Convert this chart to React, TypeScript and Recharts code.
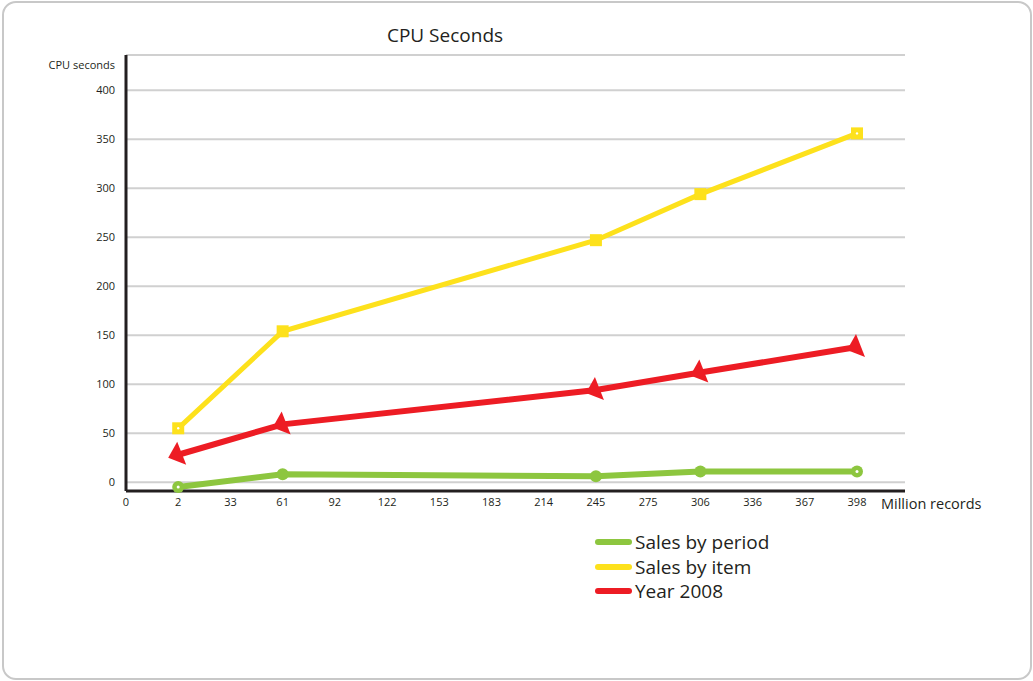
import React from 'react';
import {CartesianGrid, Legend, Line, LineChart, XAxis, YAxis} from 'recharts';

// x positions are evenly spaced labels, not a linear scale
const categories = ['0', '2', '33', '61', '92', '122', '153', '183', '214', '245', '275', '306', '336', '367', '398'];

const salesByPeriod = [null, -5, null, 8, null, null, null, null, null, 6, null, 11, null, null, 11];
const salesByItem = [null, 55, null, 154, null, null, null, null, null, 247, null, 294, null, null, 356];
const year2008 = [null, 28, null, 59, null, null, null, null, null, 94, null, 112, null, null, 138];

const seriesNames = ['Sales by period', 'Sales by item', 'Year 2008'];

const yTicks = [0, 50, 100, 150, 200, 250, 300, 350, 400];

const GREEN = '#8dc63f';
const YELLOW = '#fde11c';
const RED = '#ed1c24';
const TEXT = '#231f20';
const FONT = '"Open Sans", sans-serif';

const data = categories.map((label, i) => ({
    label,
    period: salesByPeriod[i],
    item: salesByItem[i],
    year: year2008[i],
}));

const lastIndex = categories.length - 1;

const CircleDot = (props: any) => {
    const {cx, cy, value, index} = props;
    if (value == null || cy == null) return <g key={`c-${index}`}/>;
    const hollow = index === 1 || index === lastIndex;
    return (
        <g key={`c-${index}`}>
            <circle cx={cx} cy={cy} r={6} fill={GREEN}/>
            {hollow && <circle cx={cx} cy={cy} r={1.5} fill="#fff"/>}
        </g>
    );
};

const SquareDot = (props: any) => {
    const {cx, cy, value, index} = props;
    if (value == null || cy == null) return <g key={`s-${index}`}/>;
    const dotted = index === 1 || index === lastIndex;
    return (
        <g key={`s-${index}`}>
            <rect x={cx - 6} y={cy - 6} width={12} height={12} fill={YELLOW}/>
            {dotted && <circle cx={cx} cy={cy} r={1.2} fill="#fff"/>}
        </g>
    );
};

const TriangleDot = (props: any) => {
    const {cx, cy, value, index} = props;
    if (value == null || cy == null) return <g key={`t-${index}`}/>;
    const pts = `${cx - 1},${cy - 13} ${cx + 8},${cy + 10} ${cx - 10},${cy + 3}`;
    return <polygon key={`t-${index}`} points={pts} fill={RED}/>;
};

const LegendContent = (props: any) => {
    const payload = [...(props.payload || [])].sort(
        (a: any, b: any) => seriesNames.indexOf(a.value) - seriesNames.indexOf(b.value)
    );
    return (
        <div style={{fontFamily: FONT, fontSize: 19, color: TEXT}}>
            {payload.map((entry: any) => (
                <div key={entry.value} style={{display: 'flex', alignItems: 'center', height: 24.5}}>
                    <div style={{width: 37, height: 6, borderRadius: 3, background: entry.color, marginRight: 3}}/>
                    <span style={{lineHeight: '24px'}}>{entry.value}</span>
                </div>
            ))}
        </div>
    );
};

const App = () => {
    return (
        <div style={{
            position: 'absolute', left: 0, top: 0, width: 1033, height: 681,
            background: '#fff', fontFamily: FONT,
        }}>
            <div style={{
                position: 'absolute', left: 2, top: 1, width: 1026, height: 675,
                border: '2px solid #c8c8c8', borderRadius: 14,
            }}/>
            <div style={{
                position: 'absolute', left: 345, top: 22, width: 200, textAlign: 'center',
                fontSize: 19, color: TEXT,
            }}>CPU Seconds</div>
            <div style={{
                position: 'absolute', left: 30, top: 57, width: 85, textAlign: 'right',
                fontSize: 11, color: TEXT,
            }}>CPU seconds</div>
            <div style={{
                position: 'absolute', left: 881, top: 494, fontSize: 14.5, color: TEXT,
            }}>Million records</div>
            <LineChart
                width={1033}
                height={681}
                data={data}
                margin={{top: 55, right: 128, bottom: 160, left: 0}}
                style={{position: 'absolute', left: 0, top: 0}}
            >
                <CartesianGrid horizontal vertical={false} stroke="#d0d0d0" strokeWidth={2}/>
                <XAxis
                    dataKey="label"
                    scale="point"
                    padding={{left: 0, right: 48}}
                    axisLine={{stroke: '#231f20', strokeWidth: 3}}
                    tickLine={false}
                    tickSize={0}
                    tickMargin={7}
                    interval={0}
                    tick={{fontSize: 11, fill: TEXT, fontFamily: FONT}}
                    height={30}
                />
                <YAxis
                    type="number"
                    domain={[-9, 436]}
                    ticks={yTicks}
                    width={126}
                    axisLine={{stroke: '#231f20', strokeWidth: 3}}
                    tickLine={false}
                    tickSize={0}
                    tickMargin={11}
                    tick={{fontSize: 11, fill: TEXT, fontFamily: FONT}}
                />
                <Legend
                    layout="vertical"
                    verticalAlign="middle"
                    align="center"
                    content={<LegendContent/>}
                    wrapperStyle={{left: 595, top: 530, width: 220}}
                />
                <Line
                    dataKey="period"
                    name={seriesNames[0]}
                    stroke={GREEN}
                    strokeWidth={6}
                    strokeLinejoin="round"
                    connectNulls
                    dot={CircleDot}
                    activeDot={false}
                    isAnimationActive={false}
                />
                <Line
                    dataKey="item"
                    name={seriesNames[1]}
                    stroke={YELLOW}
                    strokeWidth={5}
                    connectNulls
                    dot={SquareDot}
                    activeDot={false}
                    isAnimationActive={false}
                />
                <Line
                    dataKey="year"
                    name={seriesNames[2]}
                    stroke={RED}
                    strokeWidth={6}
                    connectNulls
                    dot={TriangleDot}
                    activeDot={false}
                    isAnimationActive={false}
                />
            </LineChart>
        </div>
    );
};

export default App;
